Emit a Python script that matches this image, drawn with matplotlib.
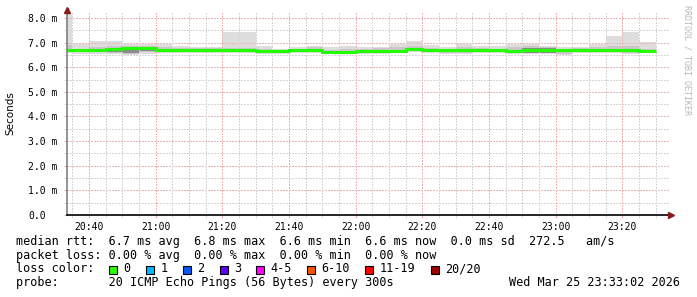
import numpy as np
import matplotlib.pyplot as plt
from matplotlib.patches import Rectangle
from matplotlib.lines import Line2D

# x axis is minutes after 20:00, one column per 5 minute step
col_start = list(range(30, 210, 5))

# median rtt per column (ms)
med = [6.68, 6.68, 6.69, 6.73, 6.76, 6.76, 6.71, 6.70, 6.70, 6.70, 6.70, 6.70,
       6.65, 6.66, 6.69, 6.69, 6.63, 6.63, 6.66, 6.67, 6.67, 6.74, 6.68, 6.68,
       6.68, 6.69, 6.68, 6.67, 6.68, 6.68, 6.68, 6.69, 6.69, 6.69, 6.68, 6.65]
# smoke: min / max of the 20 pings
lo = [6.58, 6.55, 6.55, 6.53, 6.48, 6.55, 6.57, 6.58, 6.58, 6.58, 6.58, 6.58,
      6.55, 6.55, 6.57, 6.57, 6.53, 6.53, 6.53, 6.53, 6.56, 6.60, 6.57, 6.55,
      6.53, 6.56, 6.57, 6.55, 6.53, 6.53, 6.50, 6.57, 6.57, 6.56, 6.55, 6.56]
hi = [8.14, 6.93, 7.07, 7.07, 6.93, 6.93, 6.96, 6.86, 6.81, 6.80, 7.43, 7.43,
      6.86, 6.74, 6.81, 6.88, 6.80, 6.88, 6.81, 6.84, 6.93, 7.05, 6.90, 6.80,
      6.96, 6.88, 6.86, 6.96, 6.96, 6.88, 6.80, 6.84, 6.96, 7.27, 7.43, 7.03]
# inner smoke band
mlo = [6.62, 6.60, 6.60, 6.58, 6.52, 6.60, 6.62, 6.63, 6.63, 6.63, 6.63, 6.63,
       6.60, 6.60, 6.60, 6.62, 6.57, 6.57, 6.57, 6.56, 6.60, 6.64, 6.60, 6.58,
       6.57, 6.60, 6.60, 6.58, 6.56, 6.56, 6.54, 6.60, 6.60, 6.60, 6.58, 6.60]
mhi = [6.90, 6.75, 6.80, 6.88, 6.88, 6.85, 6.80, 6.76, 6.76, 6.76, 6.78, 6.78,
       6.72, 6.70, 6.74, 6.80, 6.70, 6.74, 6.74, 6.76, 6.80, 6.85, 6.78, 6.74,
       6.80, 6.78, 6.74, 6.80, 6.85, 6.80, 6.72, 6.76, 6.80, 6.85, 6.85, 6.72]
# dense core where many pings overlap
nan = np.nan
dlo = [nan, nan, nan, 6.63, 6.58, 6.67, nan, nan, nan, nan, nan, nan,
       nan, nan, 6.61, nan, nan, nan, nan, 6.58, nan, nan, nan, 6.61,
       nan, nan, nan, nan, 6.57, 6.59, 6.61, nan, nan, 6.61, 6.61, nan]
dhi = [nan, nan, nan, 6.66, 6.70, 6.70, nan, nan, nan, nan, nan, nan,
       nan, nan, 6.65, nan, nan, nan, nan, 6.63, nan, nan, nan, 6.65,
       nan, nan, nan, nan, 6.78, 6.76, 6.65, nan, nan, 6.64, 6.64, nan]

x_major = list(range(40, 215, 20))
x_labels = ['20:40', '21:00', '21:20', '21:40', '22:00', '22:20', '22:40', '23:00', '23:20']
y_ticks = [0, 1, 2, 3, 4, 5, 6, 7, 8]
y_labels = ['0.0', '1.0 m', '2.0 m', '3.0 m', '4.0 m', '5.0 m', '6.0 m', '7.0 m', '8.0 m']

loss_labels = ['0', '1', '2', '3', '4-5', '6-10', '11-19', '20/20']
loss_colors = ['#26ff00', '#00b8ff', '#0059ff', '#5e00ff', '#ff00ff', '#ff5500', '#ff0000', '#a10000']

W, H = 697, 297
mono = 'DejaVu Sans Mono'

fig = plt.figure(figsize=(W / 100, H / 100), dpi=100)
ax = fig.add_axes([67 / W, 1 - 215 / H, (669 - 67) / W, (215 - 13) / H])
ax.set_xlim(33.4, 214.0)
ax.set_ylim(0, 8.2)

# smoke
ax.bar(col_start, np.array(hi) - np.array(lo), width=5, bottom=lo, align='edge',
       color='#dddddd', linewidth=0, zorder=1)
ax.bar(col_start, np.array(mhi) - np.array(mlo), width=5, bottom=mlo, align='edge',
       color='#c8c8c8', linewidth=0, zorder=1)
ax.bar(col_start, np.array(dhi) - np.array(dlo), width=5, bottom=dlo, align='edge',
       color='#8a8a8a', linewidth=0, zorder=1)

# grid (1px dotted)
grid_minor = '#d6d6d6'
grid_major = '#eeb4b4'
for y in np.arange(0.5, 8.2, 0.5):
    c = grid_major if y % 1 == 0 else grid_minor
    ax.axhline(y, color=c, lw=1.0, ls=(0, (1, 1)), zorder=2, antialiased=False)
for x in range(35, 215, 5):
    c = grid_major if x in x_major else grid_minor
    ax.axvline(x, color=c, lw=1.0, ls=(0, (1, 1)), zorder=2, antialiased=False)

# median line
edges = col_start + [col_start[-1] + 5]
ax.stairs(med, edges, baseline=None, color='#22ff00', lw=2.2, zorder=4)

# axes
for s in ['top', 'right']:
    ax.spines[s].set_visible(False)
ax.spines['left'].set_color('#808080')
ax.spines['left'].set_linewidth(1.2)
ax.spines['bottom'].set_color('black')
ax.spines['bottom'].set_linewidth(1.2)
ax.spines['left'].set_zorder(5)
ax.spines['bottom'].set_zorder(5)

ax.set_xticks(x_major)
ax.set_xticklabels(x_labels, family=mono, fontsize=7)
ax.set_xticks(list(range(35, 215, 5)), minor=True)
ax.set_yticks(y_ticks)
ax.set_yticklabels(y_labels, family=mono, fontsize=7)
ax.set_yticks(list(np.arange(0.5, 8.2, 1.0)), minor=True)
ax.tick_params(axis='x', which='both', length=2, color=grid_major, pad=3)
ax.tick_params(axis='x', which='minor', color=grid_minor)
ax.tick_params(axis='y', which='both', length=2, color=grid_major, pad=26)
ax.tick_params(axis='y', which='minor', color=grid_minor)
for t in ax.get_yticklabels():
    t.set_horizontalalignment('left')

# arrows on axes ends
fig.add_artist(Line2D([67 / W, 67 / W], [1 - 13 / H, 1 - 9 / H], color='#808080', lw=1.2))
fig.add_artist(Line2D([67 / W], [1 - 10 / H], marker='^', ms=4.5, color='#8b1a1a', lw=0))
fig.add_artist(Line2D([671 / W], [1 - 215 / H], marker='>', ms=4.5, color='#8b1a1a', lw=0))

fig.text(10 / W, 1 - 113 / H, 'Seconds', rotation=90, fontsize=7.5, va='center', ha='center')
fig.text(687 / W, 1 - 60 / H, 'RRDTOOL / TOBI OETIKER', rotation=270, fontsize=6,
         color='#b8b8b8', family=mono, va='center', ha='center')

# legend text
fs = 8.5
line1 = 'median rtt:  6.7 ms avg  6.8 ms max  6.6 ms min  6.6 ms now  0.0 ms sd  272.5   am/s'
line2 = 'packet loss: 0.00 % avg  0.00 % max  0.00 % min  0.00 % now'
fig.text(16 / W, 1 - 241.5 / H, line1, family=mono, fontsize=fs, va='center')
fig.text(16 / W, 1 - 255 / H, line2, family=mono, fontsize=fs, va='center')
fig.text(16 / W, 1 - 269 / H, 'loss color:', family=mono, fontsize=fs, va='center')
box_x = [108.7, 145.7, 182.7, 219.7, 256.3, 306.7, 365.3, 430.7]
for bx, lab, col in zip(box_x, loss_labels, loss_colors):
    fig.add_artist(Rectangle((bx / W, 1 - 273.5 / H), 8 / W, 8 / H, facecolor=col,
                             edgecolor='black', lw=0.8, transform=fig.transFigure))
    fig.text((bx + 14.5) / W, 1 - 269 / H, lab, family=mono, fontsize=fs, va='center')
fig.text(16 / W, 1 - 282.7 / H, 'probe:       20 ICMP Echo Pings (56 Bytes) every 300s',
         family=mono, fontsize=fs, va='center')
fig.text(680 / W, 1 - 282.7 / H, 'Wed Mar 25 23:33:02 2026', family=mono, fontsize=fs,
         va='center', ha='right')

fig.savefig('out.png', dpi=100)
